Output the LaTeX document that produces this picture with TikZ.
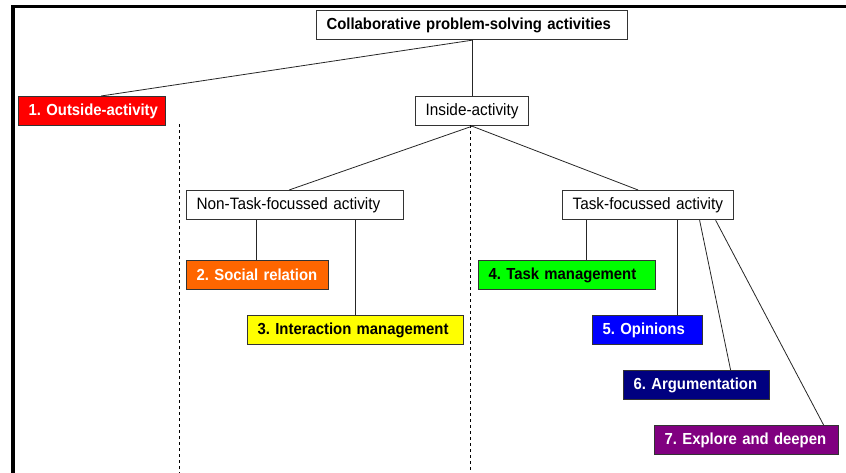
\documentclass[tikz,border=0pt]{standalone}
\usepackage{fontspec}
\setmainfont[FakeStretch=0.93]{Liberation Sans}
\usetikzlibrary{calc}
\definecolor{cRed}{HTML}{FF0000}
\definecolor{cOrange}{HTML}{FF6600}
\definecolor{cYellow}{HTML}{FFFF00}
\definecolor{cGreen}{HTML}{00FF00}
\definecolor{cBlue}{HTML}{0000FF}
\definecolor{cNavy}{HTML}{000080}
\definecolor{cPurple}{HTML}{800080}
\definecolor{edge}{HTML}{333333}
\hbadness=10000 \hfuzz=100pt
\frenchspacing
\begin{document}
\begin{tikzpicture}[x=1pt,y=-1pt,
  box/.style={draw=edge, line width=1.2pt, anchor=north west, inner xsep=10pt, inner ysep=0pt,
    minimum height=29pt, align=left, fill=white, font=\fontsize{16.5}{16.5}\selectfont},
  bbox/.style={box, font=\fontsize{16}{16}\selectfont\bfseries},
  conn/.style={draw=black!85, line width=0.8pt},
  sep/.style={draw=black, line width=0.8pt, dash pattern=on 3pt off 3pt}]
\useasboundingbox (0,0) rectangle (846,473);
% frame
\fill[black] (11,5) rectangle (846,8.5);
\fill[black] (11,5) rectangle (15,473);
% nodes
\node[bbox, text width=291pt] (top) at (316,10) {\mbox{Collaborative problem-solving activities}};
\node[bbox, fill=cRed, text=white, text width=127pt] (out) at (18,96) {\mbox{1. Outside-activity}};
\node[box, text width=93pt] (ins) at (415,96) {\mbox{Inside-activity}};
\node[box, text width=197pt] (nt) at (186,190) {\mbox{Non-Task-focussed activity}};
\node[box, text width=151pt] (tf) at (562,190) {\mbox{Task-focussed activity}};
\node[bbox, fill=cOrange, text=white, text width=122pt] (soc) at (186,260) {\mbox{2. Social relation}};
\node[bbox, fill=cYellow, text=black, text width=196pt] (im) at (247,315) {\mbox{3. Interaction management}};
\node[bbox, fill=cGreen, text=black, text width=157pt] (tm) at (478,260) {\mbox{4. Task management}};
\node[bbox, fill=cBlue, text=white, text width=90pt] (op) at (592,315) {\mbox{5. Opinions}};
\node[bbox, fill=cNavy, text=white, text width=126pt] (arg) at (623,370) {\mbox{6. Argumentation}};
\node[bbox, fill=cPurple, text=white, text width=164pt] (exp) at (654,425) {\mbox{7. Explore and deepen}};
% separators
\coordinate (b1) at (179,473);
\coordinate (b2) at (470,473);
\draw[sep] ([yshift=2pt]out.south -| b1) -- (b1);
\draw[sep] ([yshift=1pt]ins.south -| b2) -- (b2);
% connectors
\draw[conn] (top.south) -- (ins.north);
\draw[conn] (top.south) -- ([xshift=9pt]out.north);
\draw[conn] (ins.south) -- ([xshift=-6pt]nt.north);
\draw[conn] (ins.south) -- ([xshift=-10pt]tf.north);
\draw[conn] ([xshift=-38.5pt]nt.south) -- ([xshift=-38.5pt]nt.south |- soc.north);
\draw[conn] ([xshift=60.5pt]nt.south) -- ([xshift=60.5pt]nt.south |- im.north);
\draw[conn] ([xshift=-61.5pt]tf.south) -- ([xshift=-61.5pt]tf.south |- tm.north);
\draw[conn] ([xshift=29.5pt]tf.south) -- ([xshift=29.5pt]tf.south |- op.north);
\draw[conn] ([xshift=51.5pt]tf.south) -- ([xshift=34pt]arg.north);
\draw[conn] ([xshift=67.5pt]tf.south) -- ([xshift=77pt]exp.north);
\end{tikzpicture}
\end{document}
